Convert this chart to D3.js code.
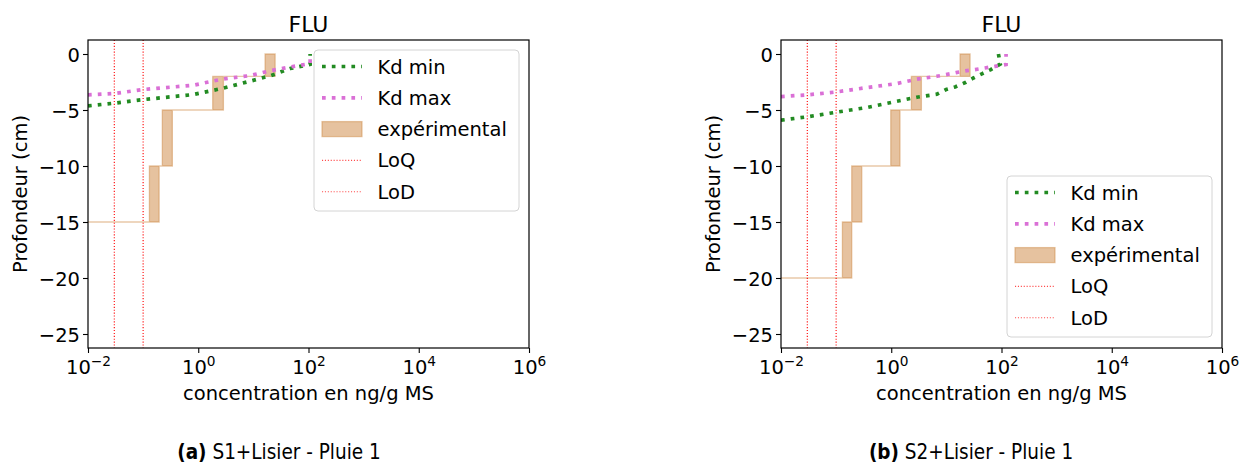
<!DOCTYPE html>
<html>
<head>
<meta charset="utf-8">
<script src="https://cdn.jsdelivr.net/npm/d3@7"></script>
<style>
  body { margin: 0; background: #fff; }
  svg text { font-family: "DejaVu Sans", sans-serif; fill: #000; }
  .caption { font-family: "Liberation Sans Narrow", "DejaVu Sans Condensed", "Liberation Sans", sans-serif; }
</style>
</head>
<body>
<svg id="chart" width="1247" height="464"></svg>
<script>
// ticks and labels
var xTickExp = [-2, 0, 2, 4, 6];
var yTicks = [0, -5, -10, -15, -20, -25];
var legendLabels = ["Kd min", "Kd max", "expérimental", "LoQ", "LoD"];
var titles = ["FLU", "FLU"];
var captionTags = ["(a)", "(b)"];
var captionTexts = ["S1+Lisier - Pluie 1", "S2+Lisier - Pluie 1"];

// limits (ng/g MS)
var loq = 0.1;
var lod = 0.03;

// S1 experimental: depth of the top of each layer, min / max concentration
var layerDepthS1 = [0, -2, -5, -10, -15];
var expLowS1  = [16.3, 1.83, 0.223, 0.130, 0];
var expHighS1 = [24.8, 2.86, 0.339, 0.195, 0];

// S2 experimental
var layerDepthS2 = [0, -2, -5, -10, -15, -20];
var expLowS2  = [17.7, 2.32, 0.98, 0.192, 0.130, 0];
var expHighS2 = [26.9, 3.52, 1.44, 0.292, 0.192, 0];

// modelled profiles [concentration, depth]
var kdMinS1 = [[0.01, -4.63], [0.03, -4.39], [0.1, -4.07], [0.233, -3.89], [0.815, -3.62],
               [2.67, -3.08], [8.7, -2.43], [20.7, -1.93], [46.4, -1.3], [107, -0.92], [107, 0]];
var kdMaxS1 = [[0.01, -3.65], [0.03, -3.53], [0.1, -3.17], [0.815, -2.79], [2.67, -2.25],
               [8.7, -1.93], [20.7, -1.48], [46.4, -1.16], [107, -0.86], [107, 0]];
var kdMinS2 = [[0.01, -5.91], [0.03, -5.61], [0.1, -5.2], [0.359, -4.78], [1.26, -4.22],
               [2.9, -3.86], [6.7, -3.59], [9.9, -3.17], [14.4, -2.94], [22, -2.55],
               [30.9, -2.14], [45, -1.75], [64, -1.39], [95, -0.9], [88, 0]];
var kdMaxS2 = [[0.01, -3.8], [0.03, -3.65], [0.1, -3.39], [0.359, -3.0], [1.26, -2.64],
               [2.9, -2.25], [6.7, -1.99], [9.9, -1.84], [15, -1.66], [22, -1.51],
               [33, -1.39], [50, -1.25], [76.5, -1.1], [121, -0.94], [121, 0]];

var kdMinColor = "#228b22";
var kdMaxColor = "#da70d6";
var expColor = "peru";
var limColor = "red";

var plotW = 441, plotTop = 40, plotBottom = 348;
var fs = 19.5;

var svg = d3.select("#chart");

var panels = [
  { left: 88,  depth: layerDepthS1, low: expLowS1, high: expHighS1, kdMin: kdMinS1, kdMax: kdMaxS1, legendTop: 50,  capX: 279 },
  { left: 781, depth: layerDepthS2, low: expLowS2, high: expHighS2, kdMin: kdMinS2, kdMax: kdMaxS2, legendTop: 176, capX: 971 }
];

panels.forEach(function(p, i) {
  var x = d3.scaleLog().domain([1e-2, 1e6]).range([p.left, p.left + plotW]);
  var y = d3.scaleLinear().domain([-26.25, 1.25]).range([plotBottom, plotTop]);
  var cx = function(v) { return x(Math.max(v, x.domain()[0])); };

  var g = svg.append("g");
  svg.append("clipPath").attr("id", "clip" + i).append("rect")
    .attr("x", p.left).attr("y", plotTop).attr("width", plotW).attr("height", plotBottom - plotTop);
  var plot = g.append("g").attr("clip-path", "url(#clip" + i + ")");

  // experimental steps
  var steps = p.depth.map(function(d, k) { return { depth: d, lo: p.low[k], hi: p.high[k] }; });
  var area = d3.area().curve(d3.curveStepBefore)
    .y(function(d) { return y(d.depth); })
    .x0(function(d) { return cx(d.lo); })
    .x1(function(d) { return cx(d.hi); });
  plot.append("path").attr("d", area(steps))
    .attr("fill", expColor).attr("fill-opacity", 0.5)
    .attr("stroke", expColor).attr("stroke-opacity", 0.45).attr("stroke-width", 1.3);

  var line = d3.line().x(function(d) { return x(d[0]); }).y(function(d) { return y(d[1]); });
  plot.append("path").attr("d", line(p.kdMin)).attr("fill", "none")
    .attr("stroke", kdMinColor).attr("stroke-width", 3.7).attr("stroke-dasharray", "3.7,6.1");
  plot.append("path").attr("d", line(p.kdMax)).attr("fill", "none")
    .attr("stroke", kdMaxColor).attr("stroke-width", 3.7).attr("stroke-dasharray", "3.7,6.1");

  [loq, lod].forEach(function(v) {
    plot.append("line").attr("x1", x(v)).attr("x2", x(v)).attr("y1", plotTop).attr("y2", plotBottom)
      .attr("stroke", limColor).attr("stroke-width", 1.1).attr("stroke-dasharray", "1.1,1.8");
  });

  // axes
  var xAxis = d3.axisBottom(x).tickValues(xTickExp.map(function(e) { return Math.pow(10, e); }))
    .tickSize(5).tickSizeOuter(0).tickFormat("");
  var gx = g.append("g").attr("transform", "translate(0," + plotBottom + ")").call(xAxis);
  gx.select(".domain").remove();
  gx.selectAll(".tick line").attr("stroke", "#000").attr("stroke-width", 1.1);
  gx.selectAll(".tick").each(function(d, k) {
    var t = d3.select(this).append("text").attr("y", 26).attr("text-anchor", "middle")
      .style("font-size", fs + "px").attr("fill", "#000");
    t.append("tspan").text("10");
    t.append("tspan").attr("dy", -8).style("font-size", "13.7px")
      .text(xTickExp[k] < 0 ? "\u2212" + Math.abs(xTickExp[k]) : xTickExp[k]);
  });

  var yAxis = d3.axisLeft(y).tickValues(yTicks).tickSize(5).tickPadding(3).tickSizeOuter(0)
    .tickFormat(function(d) { return d < 0 ? "\u2212" + Math.abs(d) : d; });
  var gy = g.append("g").attr("transform", "translate(" + p.left + ",0)").call(yAxis);
  gy.select(".domain").remove();
  gy.selectAll(".tick line").attr("stroke", "#000").attr("stroke-width", 1.1);
  gy.selectAll(".tick text").style("font-size", fs + "px").attr("fill", "#000").attr("dy", "0.36em");
  gx.attr("font-family", null);
  gy.attr("font-family", null);

  g.append("rect").attr("x", p.left).attr("y", plotTop).attr("width", plotW).attr("height", plotBottom - plotTop)
    .attr("fill", "none").attr("stroke", "#000").attr("stroke-width", 1.2);

  // title and axis labels
  var mid = p.left + plotW / 2;
  g.append("text").attr("x", mid).attr("y", 32).attr("text-anchor", "middle")
    .style("font-size", "22px").text(titles[i]);
  g.append("text").attr("x", mid).attr("y", 400).attr("text-anchor", "middle")
    .style("font-size", fs + "px").text("concentration en ng/g MS");
  g.append("text").attr("transform", "translate(" + (p.left - 61) + "," + ((plotTop + plotBottom) / 2) + ") rotate(-90)")
    .attr("text-anchor", "middle").style("font-size", fs + "px").text("Profondeur (cm)");

  // legend
  var lw = 205, lh = 161;
  var lg = g.append("g").attr("transform", "translate(" + (p.left + plotW - 10 - lw) + "," + p.legendTop + ")");
  lg.append("rect").attr("width", lw).attr("height", lh).attr("rx", 4)
    .attr("fill", "#fff").attr("fill-opacity", 0.8).attr("stroke", "#d4d4d4").attr("stroke-width", 1);
  legendLabels.forEach(function(lab, k) {
    var cy = 16.5 + k * 31.3;
    if (k === 0 || k === 1) {
      lg.append("line").attr("x1", 8).attr("x2", 48).attr("y1", cy).attr("y2", cy)
        .attr("stroke", k === 0 ? kdMinColor : kdMaxColor).attr("stroke-width", 3.7)
        .attr("stroke-dasharray", "3.7,6.1");
    } else if (k === 2) {
      lg.append("rect").attr("x", 8).attr("y", cy - 7.5).attr("width", 40).attr("height", 15)
        .attr("fill", expColor).attr("fill-opacity", 0.5)
        .attr("stroke", expColor).attr("stroke-opacity", 0.45).attr("stroke-width", 1.3);
    } else {
      lg.append("line").attr("x1", 8).attr("x2", 48).attr("y1", cy).attr("y2", cy)
        .attr("stroke", limColor).attr("stroke-opacity", 0.7).attr("stroke-width", 1.1)
        .attr("stroke-dasharray", "1.1,1.8");
    }
    lg.append("text").attr("x", 63.5).attr("y", cy).attr("dy", "0.36em")
      .style("font-size", fs + "px").text(lab);
  });

  // caption
  var cap = svg.append("text").attr("class", "caption").attr("x", p.capX).attr("y", 459)
    .attr("text-anchor", "middle").style("font-size", "20.5px");
  cap.append("tspan").attr("font-weight", "bold").text(captionTags[i]);
  cap.append("tspan").text(" " + captionTexts[i]);
});
</script>
</body>
</html>
